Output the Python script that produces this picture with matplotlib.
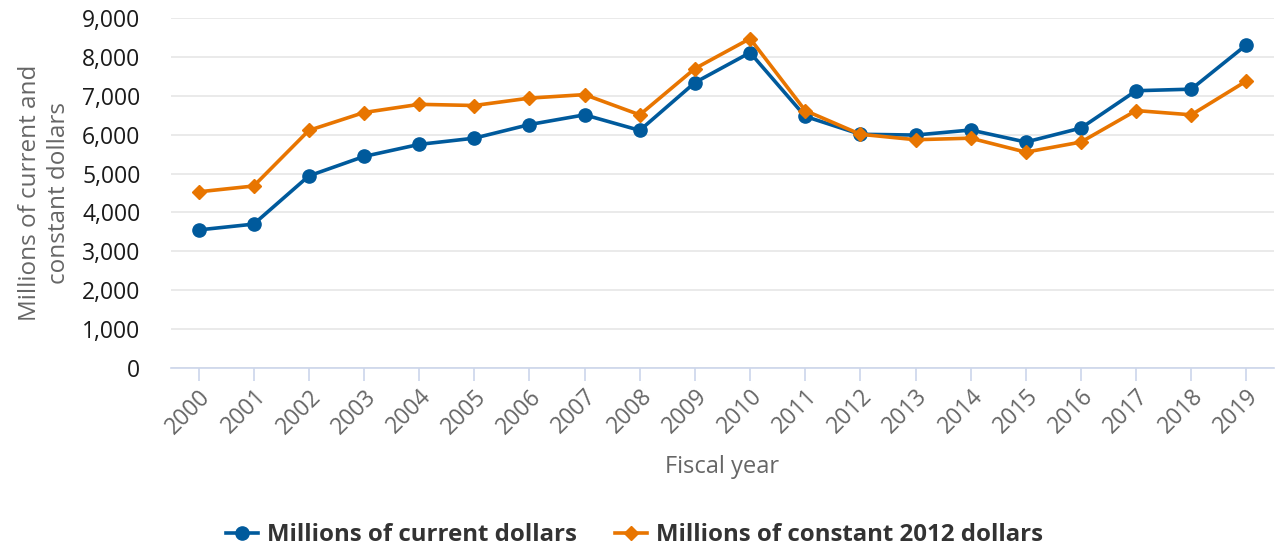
import numpy as np
import matplotlib.pyplot as plt

plt.rcParams['font.family'] = ['Open Sans', 'DejaVu Sans']

# Data
years = [str(y) for y in range(2000, 2020)]
current = [3550, 3700, 4940, 5440, 5750, 5910, 6260, 6510, 6110, 7340,
           8110, 6470, 6010, 5990, 6120, 5810, 6170, 7130, 7170, 8310]
constant = [4530, 4680, 6110, 6570, 6780, 6750, 6940, 7030, 6510, 7700,
            8470, 6620, 6010, 5870, 5910, 5550, 5810, 6620, 6510, 7380]

blue = '#005a9c'
orange = '#e87500'

fig = plt.figure(figsize=(12.76, 5.52), dpi=100)
ax = fig.add_axes([171 / 1276, (552 - 368) / 552, 1103 / 1276, 350 / 552])

x = np.arange(len(years))
ax.plot(x, current, color=blue, lw=2.6, marker='o', ms=9.5,
        label='Millions of current dollars', zorder=3)
ax.plot(x, constant, color=orange, lw=2.6, marker='D', ms=7.5,
        label='Millions of constant 2012 dollars', zorder=3)

ax.set_xlim(-0.5, len(years) - 0.5)
ax.set_ylim(0, 9000)
ax.set_yticks(np.arange(0, 9001, 1000))
ax.set_yticklabels([f'{v:,}' for v in range(0, 9001, 1000)])
ax.set_xticks(x)
ax.set_xticklabels(years, rotation=45, ha='right', rotation_mode='anchor')

ax.grid(axis='y', color='#e6e6e6', lw=1.2)
ax.set_axisbelow(True)
for s in ['top', 'right', 'left']:
    ax.spines[s].set_visible(False)
ax.spines['bottom'].set_color('#ccd6eb')
ax.spines['bottom'].set_linewidth(1.2)
ax.tick_params(axis='y', length=0, labelsize=16.5, labelcolor='#1a1a1a', pad=22)
ax.tick_params(axis='x', length=9, width=1.2, color='#ccd6eb',
               labelsize=16.5, labelcolor='#666666', pad=3)

ax.set_ylabel('Millions of current and\nconstant dollars', fontsize=17.5,
              color='#666666', linespacing=1.3, labelpad=8)
ax.set_xlabel('Fiscal year', fontsize=17, color='#666666', labelpad=12)

fig.legend(loc='center', bbox_to_anchor=(0.497, 1 - 535 / 552), ncol=2,
           frameon=False, prop={'weight': 'bold', 'size': 17.3},
           labelcolor='#333333', handlelength=1.35, columnspacing=1.6,
           handletextpad=0.35)

fig.savefig('out.png', dpi=100)
